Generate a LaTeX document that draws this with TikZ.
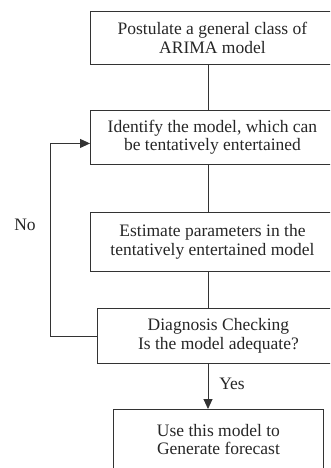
\documentclass[tikz,border=0pt]{standalone}
\usepackage{fontspec}
\setmainfont{Liberation Serif}
\usetikzlibrary{arrows.meta}
\begin{document}
\begin{tikzpicture}
        [x=1pt, y=-1pt,
        box/.style={draw=black!80, line width=0.9pt, rectangle, anchor=north west, align=center, inner sep=0pt, text=black!85, font=\fontsize{17.5}{18.5}\selectfont},
        lbl/.style={text=black!85, font=\fontsize{17.5}{18.5}\selectfont},
        edge/.style={draw=black!80, line width=0.9pt},
        flow/.style={edge, -{Triangle[length=10pt,width=9pt]}}]

        \useasboundingbox (0,0) rectangle (330,468);
        \clip (0,0) rectangle (330,468);

        \node[box, minimum width=244pt, minimum height=53pt] (post) at (90,11) {Postulate a general class of\\ARIMA model};
        \node[box, minimum width=244pt, minimum height=54pt] (ident) at (90,110) {Identify the model, which can\\be tentatively entertained};
        \node[box, minimum width=244pt, minimum height=59pt] (estim) at (90,212) {Estimate parameters in the\\tentatively entertained model};
        \node[box, minimum width=242pt, minimum height=55pt] (diag) at (97,308) {Diagnosis Checking\\Is the model adequate?};
        \node[box, minimum width=210pt, minimum height=60pt] (use) at (113,409) {Use this model to\\Generate forecast};
        \coordinate (spine) at (208,0);

        % labels for the decision
        \node[lbl] (no) at (25,225) {No};
        \node[lbl] (yes) at (232,384) {Yes};

        % main chain
        \draw[edge] (post.south -| spine) -- (ident.north -| spine);
        \draw[edge] (ident.south -| spine) -- (estim.north -| spine);
        \draw[edge] (estim.south -| spine) -- (diag.north -| spine);
        \draw[flow] (diag.south -| spine) -- (use.north -| spine);
        % loop back when not adequate
        \draw[flow] (diag.west) -- ++(-47,0) |- ([yshift=-6pt]ident.west);

        \end{tikzpicture}
\end{document}
